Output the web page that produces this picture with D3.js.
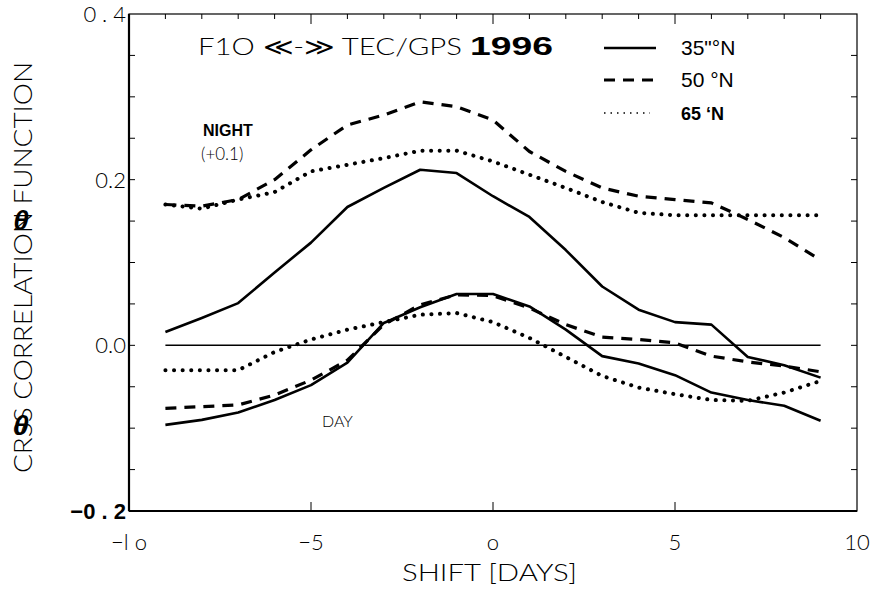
<!DOCTYPE html>
<meta charset="utf-8">
<style>
body { margin: 0; background: #fff; }
text { font-family: "Liberation Sans", Arial, sans-serif; fill: #000; }
.thin { font-family: "DejaVu Sans ExtraLight", "Lato Light", "Liberation Sans", sans-serif; font-weight: 300; }
.series { fill: none; stroke: #000; stroke-linejoin: round; }
</style>
<body>
<script src="https://d3js.org/d3.v7.min.js"></script>
<script>
var width = 871, height = 590
var margin = {top: 14, right: 14, bottom: 79, left: 129}

// shift in days
var shifts = [-9, -8, -7, -6, -5, -4, -3, -2, -1, 0, 1, 2, 3, 4, 5, 6, 7, 8, 9]

// night curves (already shifted by +0.1, as drawn)
var night35 = [0.016, 0.033, 0.051, 0.088, 0.124, 0.167, 0.19, 0.212, 0.208, 0.18, 0.155, 0.115, 0.071, 0.043, 0.028, 0.025, -0.014, -0.024, -0.039]
var night50 = [0.17, 0.168, 0.176, 0.2, 0.236, 0.266, 0.278, 0.294, 0.288, 0.272, 0.234, 0.21, 0.19, 0.18, 0.176, 0.172, 0.152, 0.13, 0.103]
var night65 = [0.17, 0.165, 0.176, 0.185, 0.21, 0.218, 0.226, 0.235, 0.235, 0.222, 0.206, 0.19, 0.173, 0.16, 0.157, 0.157, 0.157, 0.157, 0.157]

// day curves
var day35 = [-0.096, -0.09, -0.081, -0.066, -0.048, -0.021, 0.027, 0.046, 0.062, 0.062, 0.047, 0.019, -0.013, -0.022, -0.036, -0.057, -0.066, -0.073, -0.091]
var day50 = [-0.076, -0.074, -0.072, -0.06, -0.042, -0.018, 0.025, 0.049, 0.061, 0.06, 0.045, 0.025, 0.01, 0.007, 0.003, -0.013, -0.02, -0.025, -0.032]
var day65 = [-0.03, -0.03, -0.03, -0.008, 0.007, 0.019, 0.028, 0.037, 0.039, 0.028, 0.009, -0.014, -0.037, -0.051, -0.059, -0.066, -0.067, -0.057, -0.043]

var xTickVals = [-10, -5, 0, 5, 10]
var xTickText = ['\u2212l o', '\u22125', 'o', '5', '10']
var yTickVals = [0.4, 0.2, 0.0, -0.2]
var yTickText = ['0 . 4', '0.2', '0.0', '\u22120 . 2']

var legendLabels = ['35"\u00b0N', '50 \u00b0N', '65 \u2018N']

var styles = [
    {width: 2.6, dash: null},
    {width: 3.2, dash: '11,8'},
    {width: 4, dash: '0.1,8.5'}
]

var svg = d3.select('body').append('svg')
    .attr('width', width)
    .attr('height', height)

var x = d3.scaleLinear().domain([-10, 10]).range([margin.left, width - margin.right])
var y = d3.scaleLinear().domain([-0.2, 0.4]).range([height - margin.bottom, margin.top])

// frame
svg.append('rect')
    .attr('x', x(-10)).attr('y', y(0.4))
    .attr('width', x(10) - x(-10)).attr('height', y(-0.2) - y(0.4))
    .attr('fill', 'none').attr('stroke', '#000').attr('stroke-width', 1.2)
svg.append('line')
    .attr('x1', x(-10)).attr('x2', x(-10)).attr('y1', y(0.4)).attr('y2', y(-0.2))
    .attr('stroke', '#000').attr('stroke-width', 2.2)
svg.append('line')
    .attr('x1', x(-10)).attr('x2', x(10)).attr('y1', y(-0.2)).attr('y2', y(-0.2))
    .attr('stroke', '#000').attr('stroke-width', 2.2)

// inward ticks
var minorX = d3.range(-9, 10)
svg.append('g').selectAll('line').data(minorX).enter().append('line')
    .attr('x1', function (d) { return x(d) }).attr('x2', function (d) { return x(d) })
    .attr('y1', y(0.4)).attr('y2', function (d) { return y(0.4) + (d % 5 === 0 ? 10 : 5) })
    .attr('stroke', '#000').attr('stroke-width', 1)
svg.append('g').selectAll('line').data([-5, 0, 5]).enter().append('line')
    .attr('x1', function (d) { return x(d) }).attr('x2', function (d) { return x(d) })
    .attr('y1', y(-0.2)).attr('y2', y(-0.2) - 9)
    .attr('stroke', '#000').attr('stroke-width', 1)
var yMinor = [0.35, 0.3, 0.25, 0.2, 0.15, 0.1, 0.05, 0, -0.05, -0.1, -0.15]
svg.append('g').selectAll('line').data(yMinor).enter().append('line')
    .attr('x1', x(-10)).attr('x2', x(-10) + 6)
    .attr('y1', function (d) { return y(d) }).attr('y2', function (d) { return y(d) })
    .attr('stroke', '#000').attr('stroke-width', 1)
svg.append('g').selectAll('line').data(yMinor).enter().append('line')
    .attr('x1', x(10)).attr('x2', x(10) - 6)
    .attr('y1', function (d) { return y(d) }).attr('y2', function (d) { return y(d) })
    .attr('stroke', '#000').attr('stroke-width', 1)

// tick labels
svg.append('g').selectAll('text').data(xTickVals).enter().append('text')
    .attr('class', 'thin')
    .attr('x', function (d) { return x(d) })
    .attr('y', 550)
    .attr('text-anchor', 'middle')
    .attr('font-size', 22)
    .text(function (d, i) { return xTickText[i] })
svg.append('g').selectAll('text').data(yTickVals).enter().append('text')
    .attr('class', function (d) { return d < 0 ? null : 'thin' })
    .attr('x', x(-10) - 3)
    .attr('y', function (d) { return y(d) + 8 })
    .attr('text-anchor', 'end')
    .attr('font-size', 22)
    .attr('font-weight', function (d) { return d < 0 ? 'bold' : null })
    .text(function (d, i) { return yTickText[i] })

// axis titles
svg.append('text')
    .attr('class', 'thin')
    .attr('x', 402).attr('y', 581)
    .attr('font-size', 23)
    .attr('textLength', 175).attr('lengthAdjust', 'spacingAndGlyphs')
    .text('SHIFT [DAYS]')
svg.append('text')
    .attr('class', 'thin')
    .attr('transform', 'translate(32,473) rotate(-90)')
    .attr('font-size', 26)
    .attr('textLength', 411).attr('lengthAdjust', 'spacingAndGlyphs')
    .text('CRSS CORRELATION FUNCTION')
;[220, 425].forEach(function (cy) {
    svg.append('text').attr('x', 21).attr('y', cy + 10)
        .attr('text-anchor', 'middle')
        .attr('font-family', '"Liberation Serif", serif')
        .attr('font-size', 28).attr('font-weight', 'bold').attr('font-style', 'italic')
        .text('\u03b8')
})

// zero line
svg.append('line')
    .attr('x1', x(-9)).attr('x2', x(9)).attr('y1', y(0)).attr('y2', y(0))
    .attr('stroke', '#000').attr('stroke-width', 1.5)

var line = d3.line()
    .x(function (d) { return x(d[0]) })
    .y(function (d) { return y(d[1]) })

var groups = [[night35, night50, night65], [day35, day50, day65]]
groups.forEach(function (g) {
    g.forEach(function (vals, k) {
        svg.append('path')
            .datum(shifts.map(function (s, i) { return [s, vals[i]] }))
            .attr('class', 'series')
            .attr('d', line)
            .attr('stroke-width', styles[k].width)
            .attr('stroke-dasharray', styles[k].dash)
            .attr('stroke-linecap', k === 2 ? 'round' : 'butt')
    })
})

// title
svg.append('text').attr('class', 'thin').attr('x', 198).attr('y', 55).attr('font-size', 24)
    .attr('textLength', 264).attr('lengthAdjust', 'spacingAndGlyphs')
    .text('F1O \u226a-\u226b TEC/GPS')
svg.append('text').attr('x', 470).attr('y', 55).attr('font-size', 25)
    .attr('font-weight', 'bold')
    .attr('textLength', 83).attr('lengthAdjust', 'spacingAndGlyphs')
    .text('1996')

// legend
var legY = [48, 80, 113]
legendLabels.forEach(function (lab, k) {
    svg.append('line')
        .attr('x1', 604).attr('x2', k === 2 ? 650 : 656)
        .attr('y1', legY[k]).attr('y2', legY[k])
        .attr('stroke', '#000')
        .attr('stroke-width', k === 2 ? 1.5 : styles[k].width)
        .attr('stroke-dasharray', k === 1 ? '11,8' : (k === 2 ? '1.5,5' : null))
    svg.append('text')
        .attr('x', 681).attr('y', legY[k] + 7)
        .attr('font-size', k === 2 ? 18 : 21)
        .attr('font-weight', k === 2 ? 'bold' : 'normal')
        .attr('font-family', k === 2 ? null : '"Liberation Serif", serif')
        .text(lab)
})

// annotations
svg.append('text').attr('x', 203).attr('y', 136)
    .attr('font-size', 16).attr('font-weight', 'bold').text('NIGHT')
svg.append('text').attr('class', 'thin').attr('x', 201).attr('y', 160)
    .attr('font-size', 17).text('(+0.1)')
svg.append('text').attr('class', 'thin').attr('x', 322).attr('y', 427)
    .attr('font-size', 16).text('DAY')
</script>
</body>
